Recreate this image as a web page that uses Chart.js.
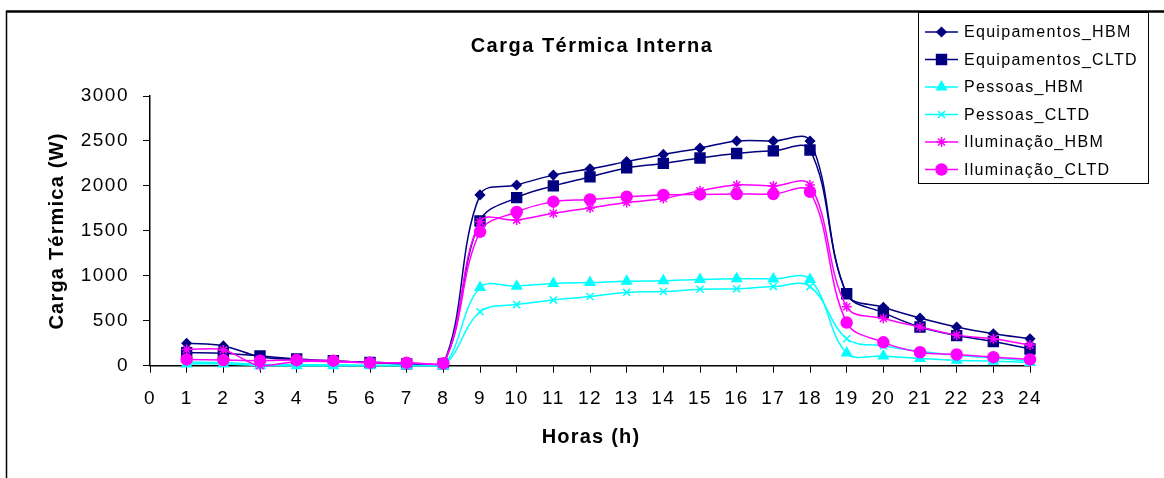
<!DOCTYPE html>
<html>
<head>
<meta charset="utf-8">
<script src="https://cdn.jsdelivr.net/npm/chart.js@4/dist/chart.umd.min.js"></script>
<style>
  html, body { margin: 0; padding: 0; background: #fff; }
  #wrap { width: 1164px; height: 478px; position: relative; }
</style>
</head>
<body>
<div id="wrap"><canvas id="c" width="1164" height="478"></canvas></div>
<script>
// Hourly internal heat load (W), hours 1..24
const hours = [1, 2, 3, 4, 5, 6, 7, 8, 9, 10, 11, 12, 13, 14, 15, 16, 17, 18, 19, 20, 21, 22, 23, 24];

const equipamentosHBM  = [250, 220, 100, 70, 50, 40, 20, 20, 1900, 2010, 2120, 2190, 2270, 2350, 2420, 2500, 2500, 2500, 800, 650, 530, 430, 355, 300];
const equipamentosCLTD = [145, 138, 108, 75, 55, 35, 20, 20, 1610, 1870, 2000, 2100, 2200, 2250, 2310, 2360, 2390, 2400, 800, 590, 430, 335, 270, 185];
const pessoasHBM       = [20, 20, 0, 0, 0, 0, 0, 0, 870, 885, 915, 925, 940, 945, 960, 968, 965, 960, 140, 108, 80, 60, 50, 35];
const pessoasCLTD      = [40, 35, 15, 10, 10, 5, 5, 0, 600, 680, 730, 770, 815, 825, 850, 855, 880, 880, 300, 220, 160, 115, 85, 50];
const iluminacaoHBM    = [180, 175, 0, 45, 45, 35, 30, 20, 1600, 1620, 1695, 1755, 1815, 1860, 1945, 2010, 2000, 2010, 655, 525, 430, 340, 300, 230];
const iluminacaoCLTD   = [70, 63, 56, 63, 56, 33, 33, 27, 1490, 1710, 1825, 1850, 1880, 1900, 1905, 1910, 1910, 1935, 480, 260, 150, 125, 95, 70];

const seriesNames = ['Equipamentos_HBM', 'Equipamentos_CLTD', 'Pessoas_HBM', 'Pessoas_CLTD', 'Iluminação_HBM', 'Iluminação_CLTD'];
const seriesValues = [equipamentosHBM, equipamentosCLTD, pessoasHBM, pessoasCLTD, iluminacaoHBM, iluminacaoCLTD];

const NAVY = '#000080', CYAN = '#00FFFF', MAGENTA = '#FF00FF';
const styles = [
  { color: NAVY,    point: 'rectRot',  radius: 4.5 },
  { color: NAVY,    point: 'rect',     radius: 7 },
  { color: CYAN,    point: 'triangle', radius: 5.5 },
  { color: CYAN,    point: 'crossRot', radius: 5 },
  { color: MAGENTA, point: 'star',     radius: 5 },
  { color: MAGENTA, point: 'circle',   radius: 5.5 }
];

const FONT = '"Liberation Sans", Arial, sans-serif';

const datasets = seriesNames.map((name, i) => ({
  label: name,
  data: hours.map((h, k) => ({ x: h, y: seriesValues[i][k] })),
  borderColor: styles[i].color,
  backgroundColor: styles[i].color,
  pointBackgroundColor: styles[i].color,
  pointBorderColor: styles[i].color,
  pointStyle: styles[i].point,
  pointRadius: styles[i].radius,
  pointBorderWidth: 1.5,
  borderWidth: 1.5,
  tension: 0.37,
  clip: false,
  order: seriesNames.length - i
}));

function drawMarker(ctx, style, x, y) {
  ctx.save();
  ctx.fillStyle = style.color;
  ctx.strokeStyle = style.color;
  ctx.lineWidth = 1.5;
  if (Chart.helpers && Chart.helpers.drawPoint) {
    Chart.helpers.drawPoint(ctx, { pointStyle: style.point, radius: style.radius, borderWidth: 1.5, rotation: 0 }, x, y);
  }
  ctx.restore();
}

const frameAndText = {
  id: 'frameAndText',
  beforeDraw(chart) {
    chart.ctx.letterSpacing = '1.5px';
  },
  afterDraw(chart) {
    const ctx = chart.ctx;
    ctx.save();
    // outer frame (top and left edges)
    ctx.strokeStyle = '#000';
    ctx.lineWidth = 2.5;
    ctx.beginPath(); ctx.moveTo(6, 11.5); ctx.lineTo(1164, 11.5); ctx.stroke();
    ctx.lineWidth = 1.5;
    ctx.beginPath(); ctx.moveTo(6.5, 11); ctx.lineTo(6.5, 478); ctx.stroke();

    // title
    ctx.fillStyle = '#000';
    ctx.textBaseline = 'middle';
    ctx.textAlign = 'center';
    ctx.letterSpacing = '1.5px';
    ctx.font = 'bold 20px ' + FONT;
    ctx.fillText('Carga Térmica Interna', 592, 46);

    // axis titles
    ctx.letterSpacing = '1.2px';
    ctx.fillText('Horas (h)', 591, 437);
    ctx.save();
    ctx.translate(57, 231);
    ctx.rotate(-Math.PI / 2);
    ctx.fillText('Carga Térmica (W)', 0, 0);
    ctx.restore();

    // legend
    ctx.lineWidth = 1;
    ctx.strokeStyle = '#000';
    ctx.fillStyle = '#fff';
    ctx.fillRect(918.5, 12.5, 230, 171);
    ctx.strokeRect(918.5, 12.5, 230, 171);
    ctx.font = '16px ' + FONT;
    ctx.letterSpacing = '1.3px';
    ctx.textAlign = 'left';
    seriesNames.forEach((name, i) => {
      const y = 32 + i * 27.5;
      ctx.strokeStyle = styles[i].color;
      ctx.lineWidth = 1.5;
      ctx.beginPath(); ctx.moveTo(925, y); ctx.lineTo(958, y); ctx.stroke();
      drawMarker(ctx, styles[i], 941.5, y);
      ctx.fillStyle = '#000';
      ctx.fillText(name, 964, y + 1);
    });
    ctx.restore();
  }
};

new Chart(document.getElementById('c'), {
  type: 'line',
  data: { datasets },
  options: {
    responsive: false,
    devicePixelRatio: 1,
    animation: false,
    layout: { padding: { left: 0, top: 96, right: 134, bottom: 0 } },
    plugins: { legend: { display: false }, title: { display: false }, tooltip: { enabled: false } },
    scales: {
      x: {
        type: 'linear',
        min: 0, max: 24,
        afterFit(s) { s.height = 112.3; },
        ticks: { stepSize: 1, color: '#000', padding: 15, maxRotation: 0, autoSkip: false,
                 font: { family: FONT, size: 19 }, callback: v => String(v) },
        grid: { display: true, drawOnChartArea: false, drawTicks: true, tickLength: 7, color: '#000', lineWidth: 1 },
        border: { display: true, color: '#000', width: 1.5 }
      },
      y: {
        min: 0, max: 3000,
        afterFit(s) { s.width = 150; },
        ticks: { stepSize: 500, color: '#000', padding: 14,
                 font: { family: FONT, size: 19 }, callback: v => String(v) },
        grid: { display: true, drawOnChartArea: false, drawTicks: true, tickLength: 7, color: '#000', lineWidth: 1 },
        border: { display: true, color: '#000', width: 1.5 }
      }
    }
  },
  plugins: [frameAndText]
});
</script>
</body>
</html>
